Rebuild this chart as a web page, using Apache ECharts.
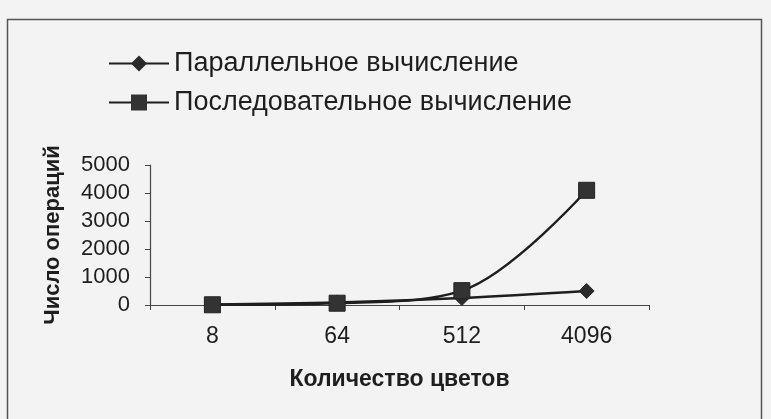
<!DOCTYPE html>
<html>
<head>
<meta charset="utf-8">
<script src="https://cdn.jsdelivr.net/npm/echarts@6/dist/echarts.min.js"></script>
<style>
  html, body { margin: 0; padding: 0; background: #f3f3f3; }
  #chart { width: 771px; height: 419px; }
</style>
</head>
<body>
<div id="chart"></div>
<script>
// Number of colours (x categories)
const categories = ['8', '64', '512', '4096'];
// Operation counts per approach
const parallelOps = [20, 90, 250, 500];
const sequentialOps = [8, 64, 512, 4096];
// Y axis range
const yMin = 0, yMax = 5000, yStep = 1000;

const seriesNames = ['Параллельное вычисление', 'Последовательное вычисление'];
const fontFamily = '"Liberation Sans", Arial, sans-serif';
const ink = '#1e1e1e';

const chart = echarts.init(document.getElementById('chart'), null, { renderer: 'canvas' });

chart.setOption({
  backgroundColor: '#f3f3f3',
  animation: false,
  textStyle: { fontFamily: fontFamily, color: ink },
  graphic: [{
    type: 'rect',
    shape: { x: 7.5, y: 19.5, width: 754, height: 420 },
    style: { fill: 'none', stroke: '#555', lineWidth: 1.5 },
    silent: true
  }],
  legend: {
    orient: 'vertical',
    left: 103,
    top: 45,
    itemWidth: 60,
    itemHeight: 20,
    itemGap: 12,
    textStyle: { fontSize: 27, color: ink, fontFamily: fontFamily },
    data: seriesNames
  },
  grid: { left: 150, right: 122, top: 165, bottom: 114, containLabel: false },
  xAxis: {
    type: 'category',
    data: categories,
    boundaryGap: true,
    name: 'Количество цветов',
    nameLocation: 'middle',
    nameGap: 63,
    nameTextStyle: { fontSize: 23, fontWeight: 'bold', color: ink },
    axisLine: { lineStyle: { color: '#444', width: 1.2 } },
    axisTick: { show: true, length: 5, lineStyle: { color: '#444' } },
    axisLabel: { fontSize: 23, color: ink, margin: 20 }
  },
  yAxis: {
    type: 'value',
    min: yMin,
    max: yMax,
    interval: yStep,
    name: 'Число операций',
    nameLocation: 'middle',
    nameGap: 86,
    nameRotate: 90,
    nameTextStyle: { fontSize: 22, fontWeight: 'bold', color: ink },
    axisLine: { show: true, lineStyle: { color: '#444', width: 1.2 } },
    axisTick: { show: true, length: 5, lineStyle: { color: '#444' } },
    splitLine: { show: false },
    axisLabel: { fontSize: 22, color: ink, margin: 20, formatter: (v) => String(v) }
  },
  series: [
    {
      name: seriesNames[0],
      type: 'line',
      data: parallelOps,
      smooth: 0.35,
      symbol: 'diamond',
      symbolSize: [15, 15],
      lineStyle: { color: ink, width: 2.4 },
      itemStyle: { color: '#2a2a2a', borderColor: '#2a2a2a' },
      z: 2
    },
    {
      name: seriesNames[1],
      type: 'line',
      data: sequentialOps,
      smooth: 0.35,
      symbol: 'rect',
      symbolSize: 16,
      lineStyle: { color: ink, width: 2.4 },
      itemStyle: { color: '#333', borderColor: '#222' },
      z: 3
    }
  ]
});
</script>
</body>
</html>
